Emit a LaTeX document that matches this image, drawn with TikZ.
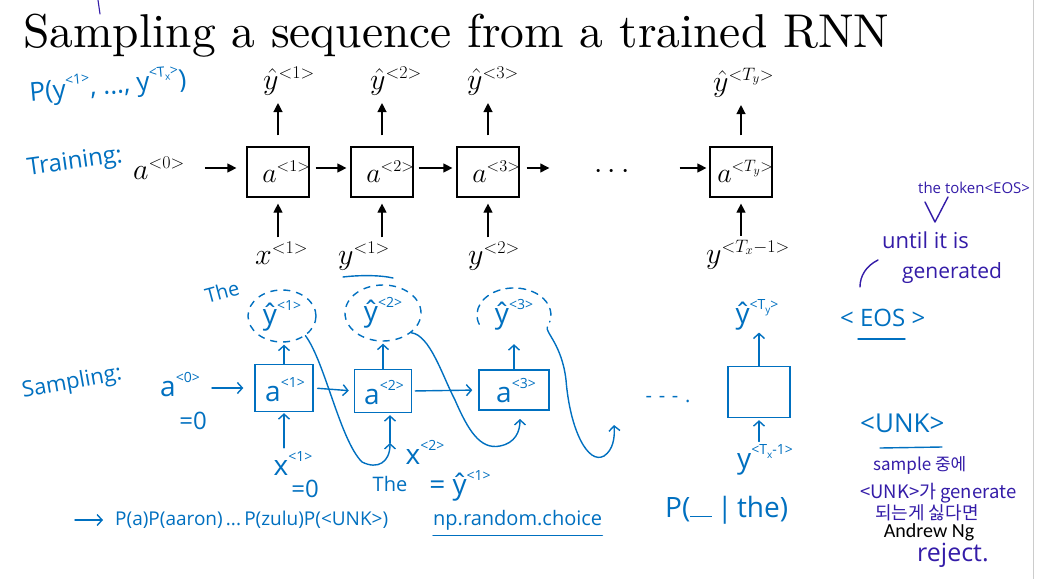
\RequirePackage{fix-cm}
\documentclass[tikz,border=0pt]{standalone}
\usepackage{fontspec}
\usepackage{graphicx}
\usetikzlibrary{arrows.meta, positioning, shapes.geometric}
\newfontfamily\handfont{Open Sans}
\newfontfamily\korfont{Noto Sans CJK KR}
\newfontfamily\slidefont{Carlito}
\definecolor{inkblue}{RGB}{0,112,192}
\definecolor{inkpurple}{RGB}{52,28,168}
\DeclareMathSizes{30}{30}{18}{13}
\DeclareMathSizes{28}{28}{16.5}{12}
% small raised / lowered marks for the handwritten labels
\newcommand\hsup[1]{\raisebox{0.5em}{\fontsize{14}{14}\selectfont #1}}
\newcommand\hsub[1]{\raisebox{-0.3em}{\fontsize{10}{10}\selectfont #1}}
\tikzset{
  cell/.style={draw, line width=1.2pt, minimum width=62pt, minimum height=50pt, inner sep=0pt},
  mlabel/.style={font=\fontsize{30}{32}\selectfont, inner sep=0pt},
  clabel/.style={font=\fontsize{28}{30}\selectfont, inner sep=0pt, anchor=base east, xshift=1pt, yshift=-10pt},
  arrow/.style={-{Triangle[length=9pt,width=9pt]}, line width=1.2pt},
  ink/.style={color=inkblue, line width=1.4pt, line cap=round, line join=round},
  inkp/.style={ink, color=inkpurple},
  inkarrow/.style={ink, -{Straight Barb[length=5pt,width=11pt]}},
  inkdash/.style={ink, dash pattern=on 7pt off 6pt},
  inkbox/.style={draw=inkblue, line width=1.4pt, inner sep=0pt},
  hand/.style={text=inkblue, font=\handfont\fontsize{20}{24}\selectfont, inner sep=0pt},
  handmath/.style={hand, font=\handfont\fontsize{28}{30}\selectfont},
  kor/.style={text=inkpurple, font=\korfont\fontsize{17}{20}\selectfont, inner sep=0pt, anchor=west}
}
\begin{document}
\begin{tikzpicture}[x=1pt, y=-1pt]
  \fill[white] (0,0) rectangle (1037,579);
  \useasboundingbox (0,0) rectangle (1037,579);
  \draw[gray!40, line width=0.8pt] (1033,0) -- (1033,579);

  % title
  \node[anchor=base west, inner sep=0pt] (title) at (23,47)
    {\resizebox{866pt}{!}{Sampling a sequence from a trained RNN}};
  \draw[inkp, line width=1.1pt] (98,0) -- (100,14);

  % training: printed RNN
  \node[mlabel, anchor=base west] (a0) at (133,179) {$a^{<0>}$};
  \node[cell] (b1) at (278,172) {};
  \node[cell] (b2) at (382,172) {};
  \node[cell] (b3) at (488,172) {};
  \node[mlabel] (dots) at (612,172) {$\cdots$};
  \node[cell] (bT) at (741,172) {};
  \node[clabel] (l1) at (b1.east) {$a^{<1>}$};
  \node[clabel] (l2) at (b2.east) {$a^{<2>}$};
  \node[clabel] (l3) at (b3.east) {$a^{<3>}$};
  \node[clabel] (lT) at (bT.east) {$a^{<T_y>}$};

  \node[mlabel, anchor=base west] (yh1) at (263,89) {$\hat{y}^{<1>}$};
  \node[mlabel, anchor=base west] (yh2) at (370,89) {$\hat{y}^{<2>}$};
  \node[mlabel, anchor=base west] (yh3) at (467,89) {$\hat{y}^{<3>}$};
  \node[mlabel, anchor=base west] (yhT) at (713,91) {$\hat{y}^{<T_y>}$};

  \node[mlabel, anchor=base west] (x1) at (255,264) {$x^{<1>}$};
  \node[mlabel, anchor=base west] (y1) at (338,264) {$y^{<1>}$};
  \node[mlabel, anchor=base west] (y2) at (468,264) {$y^{<2>}$};
  \node[mlabel, anchor=base west] (yTx) at (706,263) {$y^{<T_x-1>}$};

  \draw[arrow, shorten <=20pt, shorten >=10pt] ([yshift=4pt]b1.west -| a0.east) -- ([yshift=4pt]b1.west);
  \draw[arrow, shorten <=6pt, shorten >=4pt] ([yshift=4pt]b1.east) -- ([yshift=4pt]b2.west);
  \draw[arrow, shorten <=5pt, shorten >=4pt] ([yshift=4pt]b2.east) -- ([yshift=4pt]b3.west);
  \draw[arrow, shorten <=7pt, shorten >=45pt] ([yshift=4pt]b3.east) -- ([yshift=4pt]b3.east -| dots.west);
  \draw[arrow, shorten <=50pt, shorten >=3pt] ([yshift=4pt]bT.west -| dots.east) -- ([yshift=4pt]bT.west);

  \foreach \b/\o in {b1/yh1, b2/yh2, b3/yh3, bT/yhT}
    \draw[arrow, shorten <=11pt, shorten >=8pt] (\b.north) -- (\b.north |- \o.south);
  \foreach \b/\i in {b1/x1, b2/y1, b3/y2, bT/yTx}
    \draw[arrow, shorten <=4pt, shorten >=6pt] (\b.south |- \i.north) -- (\b.south);

  % handwritten notes, top left
  \node[hand, rotate=5, font=\handfont\fontsize{26}{28}\selectfont] (pjoint) at (108,86)
    {P(y\hsup{<1>}, ..., y\hsup{<T\hsub{x}>})};
  \node[hand, rotate=8, font=\handfont\fontsize{24}{26}\selectfont] (train) at (75,163) {Training:};
  \draw[ink] (343,277) .. controls (360,275) and (380,275) .. (393,278);

  % sampling: handwritten RNN
  \node[hand, rotate=10, font=\handfont\fontsize{22}{24}\selectfont] (samp) at (72,383) {Sampling:};
  \node[handmath] (sa0) at (180,385) {a\hsup{<0>}};
  \node[hand, font=\handfont\fontsize{24}{26}\selectfont] (sa0z) at (193,421) {=0};
  \node[inkbox, minimum width=58pt, minimum height=47pt] (sb1) at (284,388) {};
  \node[inkbox, minimum width=57pt, minimum height=43pt] (sb2) at (383,391) {};
  \node[inkbox, minimum width=70pt, minimum height=40pt] (sb3) at (514,390) {};
  \node[inkbox, minimum width=62pt, minimum height=51pt] (sbT) at (759,392) {};
  \node[handmath] (sl1) at (285,390) {a\hsup{<1>}};
  \node[handmath] (sl2) at (384,393) {a\hsup{<2>}};
  \node[handmath] (sl3) at (516,391) {a\hsup{<3>}};

  \node[handmath, ellipse, draw=inkblue, line width=1.4pt, dash pattern=on 7pt off 6pt,
        minimum width=68pt, minimum height=52pt] (sy1) at (282,316) {ŷ\hsup{<1>}};
  \node[handmath, ellipse, draw=inkblue, line width=1.4pt, dash pattern=on 7pt off 6pt,
        minimum width=76pt, minimum height=56pt] (sy2) at (383,313) {ŷ\hsup{<2>}};
  \node[handmath, ellipse, minimum width=74pt, minimum height=54pt] (sy3) at (514,315) {ŷ\hsup{<3>}};
  \draw[inkdash] ([shift={(-34.8,9.2)}]sy3.center) arc[start angle=-200, end angle=15, x radius=37, y radius=27];
  \node[handmath] (syT) at (757,315) {ŷ\hsup{<T\hsub{y}>}};
  \node[hand, rotate=15] (the1) at (222,292) {The};

  \node[handmath] (sx1) at (293,463) {x\hsup{<1>}};
  \node[hand, font=\handfont\fontsize{24}{26}\selectfont] (sx1z) at (305,489) {=0};
  \node[handmath] (sx2) at (425,452) {x\hsup{<2>}};
  \node[hand] (the2) at (390,484) {The};
  \node[handmath] (sx2y) at (460,486) {= ŷ\hsup{<1>}};
  \node[handmath] (syx) at (765,460) {y\hsup{<T\hsub{x}-1>}};
  \node[hand] (sdots) at (668,400) {-\,\,-\,\,-\,\,.};

  \coordinate (in2) at (390,443);
  \coordinate (in3) at (520,419);
  \coordinate (in4) at (614,425);

  \draw[inkarrow, shorten <=12pt, shorten >=11pt] (sa0.east |- sb1.west) -- (sb1.west);
  \draw[inkarrow, shorten <=4pt, shorten >=5pt] (sb1.east) -- (sb2.west);
  \draw[inkarrow, shorten <=3pt, shorten >=6pt] (sb2.east) -- (sb3.west);
  \foreach \b/\o in {sb1/sy1, sb2/sy2, sb3/sy3}
    \draw[inkarrow, shorten >=2pt] (\b.north) -- (\b.north |- \o.south);
  \draw[inkarrow, shorten >=2pt] (sbT.north) -- (sbT.north |- syT.south);
  \draw[inkarrow, shorten <=3pt, shorten >=1pt] (sb1.south |- sx1.north) -- (sb1.south);
  \draw[inkarrow, shorten >=2pt] (in2) -- (in2 |- sb2.south);
  \draw[inkarrow, shorten <=3pt, shorten >=2pt] (sbT.south |- syx.north) -- (sbT.south);

  % feedback of sampled words
  \draw[inkarrow] (sy1.-40) .. controls (325,362) and (340,440) .. (362,462)
    .. controls (378,470) and (390,462) .. (in2);
  \draw[inkarrow] (sy2.-35) .. controls (430,335) and (442,375) .. (455,400)
    .. controls (468,430) and (480,450) .. (500,446) .. controls (515,443) and (520,432) .. (in3);
  \draw[inkarrow] (sy3.-20) .. controls (545,332) and (562,345) .. (566,380)
    .. controls (570,430) and (588,465) .. (604,456) .. controls (613,450) and (615,438) .. (in4);

  % bottom notes
  \node[hand, anchor=west, font=\handfont\fontsize{19}{22}\selectfont] (pvocab) at (115,520) {P(a)P(aaron)\,...\,P(zulu)P(<UNK>)};
  \draw[inkarrow] ([xshift=-40pt]pvocab.west) -- ([xshift=-12pt]pvocab.west);
  \node[hand, anchor=west] (npchoice) at (433,520) {np.random.choice};
  \draw[ink] ([yshift=-5pt]npchoice.south west) -- ([yshift=-5pt]npchoice.south east);
  \node[hand, anchor=west, font=\handfont\fontsize{28}{30}\selectfont] (pcond) at (665,510) {P(\rule{22pt}{1.4pt}\,|\,the)};

  % right notes
  \node[kor, font=\handfont\fontsize{15}{18}\selectfont] (token) at (918,188) {the token<EOS>};
  \draw[inkp] (925,202) -- (935,222) -- (948,197);
  \node[kor, font=\handfont\fontsize{22}{24}\selectfont] (until) at (882,240) {until it is};
  \node[kor, font=\handfont\fontsize{21}{24}\selectfont] (gen) at (902,273) {generated};
  \draw[inkp] (878,260) .. controls (866,266) and (860,276) .. (860,287);
  \node[hand, anchor=west, font=\handfont\fontsize{24}{26}\selectfont] (eos) at (840,318) {< EOS >};
  \draw[ink] (858,339) -- (905,339);
  \node[hand, anchor=west, font=\handfont\fontsize{26}{28}\selectfont] (unk) at (860,423) {<UNK>};
  \draw[ink] (880,448) -- (942,447);
  \node[kor] (kr1) at (873,465) {sample 중에};
  \node[kor, font=\korfont\fontsize{18.5}{20}\selectfont] (kr2) at (860,493) {<UNK>가 generate};
  \node[kor, font=\korfont\fontsize{18}{20}\selectfont] (kr3) at (875,513) {되는게 싫다면};
  \node[kor, font=\handfont\fontsize{25}{28}\selectfont] (rej) at (917,555) {reject.};
  \node[font=\slidefont\fontsize{20}{24}\selectfont, inner sep=0pt] (author) at (929,532) {Andrew Ng};
\end{tikzpicture}
\end{document}
